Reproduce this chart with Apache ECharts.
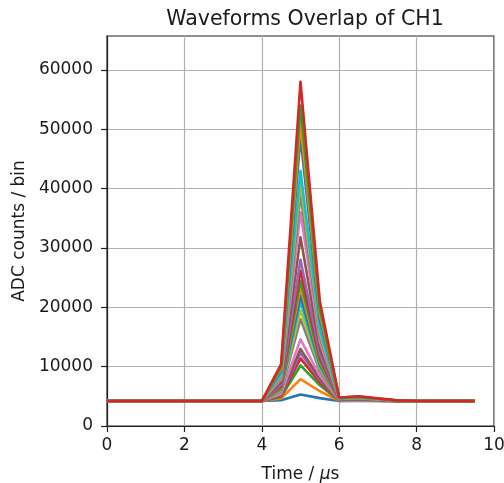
<!DOCTYPE html>
<html>
<head>
<meta charset="utf-8">
<script src="https://cdn.jsdelivr.net/npm/echarts@6/dist/echarts.min.js"></script>
<style>html,body{margin:0;padding:0;background:#fff}#c{width:504px;height:483px}</style>
</head>
<body>
<div id="c"></div>
<script>
const time = [0,0.5,1,1.5,2,2.5,3,3.5,4,4.5,5,5.5,6,6.5,7,7.5,8,8.5,9,9.5];
const xTicks = [0,2,4,6,8,10];
const yTicks = [0,10000,20000,30000,40000,50000,60000];
const colors = ['#1f77b4','#ff7f0e','#2ca02c','#d62728','#9467bd','#8c564b','#e377c2','#7f7f7f','#bcbd22','#17becf'];
const waveforms = [
[4200,4200,4200,4200,4200,4200,4200,4200,4200,4330,5300,4700,4210,4220,4210,4200,4200,4200,4200,4200],
[4200,4200,4200,4200,4200,4200,4200,4200,4200,4630,7900,5850,4240,4260,4230,4210,4200,4200,4200,4200],
[4200,4200,4200,4200,4200,4200,4200,4200,4200,4900,10200,6850,4270,4290,4250,4210,4200,4200,4200,4200],
[4200,4200,4200,4200,4200,4200,4200,4200,4200,5040,11400,7300,4280,4310,4260,4210,4200,4200,4200,4200],
[4200,4200,4200,4200,4200,4200,4200,4200,4200,5140,12300,7700,4290,4320,4270,4220,4200,4200,4200,4200],
[4200,4200,4200,4200,4200,4200,4200,4200,4200,5220,13000,7950,4300,4330,4270,4220,4200,4200,4200,4200],
[4200,4200,4200,4200,4200,4200,4200,4200,4200,5410,14600,8500,4320,4360,4290,4220,4200,4200,4200,4200],
[4200,4200,4200,4200,4200,4200,4200,4200,4200,5800,18000,9300,4350,4410,4320,4230,4200,4200,4200,4200],
[4200,4200,4200,4200,4200,4200,4200,4200,4200,5980,19500,9700,4370,4430,4330,4230,4200,4200,4200,4200],
[4200,4200,4200,4200,4200,4200,4200,4200,4200,6150,21000,10000,4390,4450,4340,4230,4200,4200,4200,4200],
[4200,4200,4200,4200,4200,4200,4200,4200,4200,6270,22000,10300,4400,4470,4350,4240,4200,4200,4200,4200],
[4200,4200,4200,4200,4200,4200,4200,4200,4200,6430,23400,10700,4410,4490,4360,4240,4200,4200,4200,4200],
[4200,4200,4200,4200,4200,4200,4200,4200,4200,6560,24500,11000,4420,4500,4370,4240,4200,4200,4200,4200],
[4200,4200,4200,4200,4200,4200,4200,4200,4200,6750,26200,11500,4440,4530,4390,4240,4200,4200,4200,4200],
[4200,4200,4200,4200,4200,4200,4200,4200,4200,6960,28000,12000,4460,4560,4400,4250,4200,4200,4200,4200],
[4200,4200,4200,4200,4200,4200,4200,4200,4200,7400,31800,13000,4500,4610,4430,4250,4200,4200,4200,4200],
[4200,4200,4200,4200,4200,4200,4200,4200,4200,7890,36000,14200,4550,4680,4470,4260,4200,4200,4200,4200],
[4200,4200,4200,4200,4200,4200,4200,4200,4200,8240,39000,15100,4580,4720,4500,4270,4200,4200,4200,4200],
[4200,4200,4200,4200,4200,4200,4200,4200,4200,8470,41000,15700,4600,4750,4510,4270,4200,4200,4200,4200],
[4200,4200,4200,4200,4200,4200,4200,4200,4200,8700,43000,16300,4630,4780,4530,4280,4200,4200,4200,4200],
[4200,4200,4200,4200,4200,4200,4200,4200,4200,9360,48700,18000,4690,4870,4580,4290,4200,4200,4200,4200],
[4200,4200,4200,4200,4200,4200,4200,4200,4200,9630,51000,18800,4720,4900,4600,4290,4200,4200,4200,4200],
[4200,4200,4200,4200,4200,4200,4200,4200,4200,9980,54000,19700,4750,4950,4620,4300,4200,4200,4200,4200],
[4200,4200,4200,4200,4200,4200,4200,4200,4200,10440,58000,21000,4790,5010,4660,4310,4200,4200,4200,4200]
];
const FONT = 'DejaVu Sans';
const chart = echarts.init(document.getElementById('c'), null, {renderer:'canvas'});
chart.setOption({
  animation: false,
  backgroundColor: '#fff',
  title: {
    text: 'Waveforms Overlap of CH1', left: 300, top: 4, textAlign: 'center',
    textStyle: {fontFamily: FONT, fontSize: 20.5, fontWeight: 'normal', color: '#1a1a1a'}
  },
  grid: {left: 107, right: 10, top: 36, bottom: 57, show: true, borderColor: '#222', borderWidth: 1.2, backgroundColor: 'transparent', containLabel: false, outerBoundsMode: 'none'},
  xAxis: {
    type: 'value', min: 0, max: 10, interval: 2,
    name: 'Time / {i|μ}s', nameLocation: 'middle', nameGap: 40,
    nameTextStyle: {fontFamily: FONT, fontSize: 17, color: '#1a1a1a', rich: {i: {fontFamily: FONT, fontStyle: 'italic', fontSize: 17, color: '#1a1a1a'}}},
    axisLine: {show: true, onZero: false, lineStyle: {color: '#222', width: 1.2}},
    axisTick: {show: true, inside: false, length: 6, lineStyle: {color: '#222', width: 1.2}, customValues: xTicks},
    axisLabel: {fontFamily: FONT, fontSize: 17, color: '#1a1a1a', margin: 11, customValues: xTicks, formatter: v => String(v)},
    splitLine: {show: true, lineStyle: {color: '#b0b0b0', width: 1.2}}
  },
  yAxis: {
    type: 'value', min: 0, max: 65700, interval: 10000,
    name: 'ADC counts / bin', nameLocation: 'middle', nameGap: 78,
    nameTextStyle: {fontFamily: FONT, fontSize: 17, color: '#1a1a1a'},
    axisLine: {show: true, onZero: false, lineStyle: {color: '#222', width: 1.2}},
    axisTick: {show: true, inside: false, length: 6, lineStyle: {color: '#222', width: 1.2}, customValues: yTicks},
    axisLabel: {fontFamily: FONT, fontSize: 17, color: '#1a1a1a', margin: 14, customValues: yTicks, formatter: v => String(v)},
    splitLine: {show: true, lineStyle: {color: '#b0b0b0', width: 1.2}}
  },
  series: waveforms.map((w, i) => ({
    type: 'line',
    data: time.map((t, j) => [t, w[j]]),
    showSymbol: false,
    symbol: 'none',
    lineStyle: {color: colors[i % colors.length], width: 2.6, join: 'round'},
    itemStyle: {color: colors[i % colors.length]},
    z: 2 + i * 0.001,
    silent: true
  }))
});
</script>
</body>
</html>
